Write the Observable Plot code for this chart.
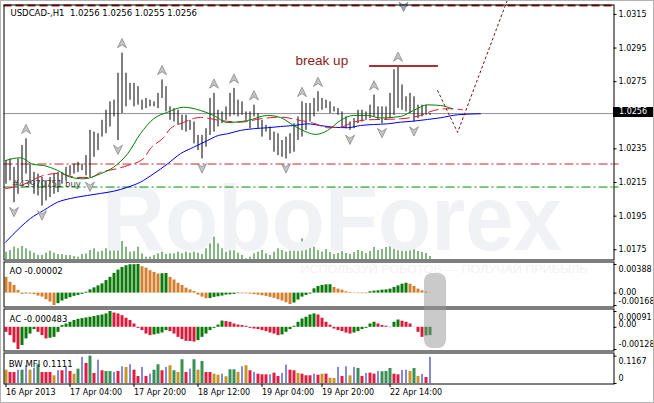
<!DOCTYPE html>
<html><head><meta charset="utf-8">
<script src="https://cdn.jsdelivr.net/npm/d3@7"></script>
<script src="https://cdn.jsdelivr.net/npm/@observablehq/plot@0.6"></script>
<style>
html,body{margin:0;padding:0;background:#fff;}
#chart{position:relative;width:654px;height:403px;overflow:hidden;background:#fff;font-family:"DejaVu Sans",sans-serif;}
#chart .layer{position:absolute;left:0;}
#chart .layer svg{display:block;}
.pricebox{position:absolute;left:613px;top:107px;width:40px;height:10px;background:#000;color:#fff;font-size:8px;line-height:10px;text-align:center;font-family:"DejaVu Sans",sans-serif;}
.pill{position:absolute;left:424px;top:273px;width:22px;height:75px;border-radius:8px;background:rgba(150,150,150,0.5);}
.edge{position:absolute;left:0;top:0;width:654px;height:403px;box-sizing:border-box;border:1px solid #b4b4b4;pointer-events:none;}
</style></head>
<body><div id="chart"></div>
<script>
// ---------------- data ----------------
const titleText = "USDCAD-,H1\u00a0 1.0256 1.0256 1.0255 1.0256";
const barHigh = [1.0228,1.0229,1.0224,1.0229,1.0237,1.0241,1.0226,1.0221,1.0220,1.0218,
 1.0216,1.0218,1.0220,1.0221,1.0221,1.0224,1.0225,1.0226,1.0227,1.0226,
 1.0231,1.0246,1.0245,1.0244,1.0252,1.0258,1.0263,1.0264,1.0280,1.0292,
 1.0280,1.0274,1.0274,1.0272,1.0264,1.0265,1.0264,1.0263,1.0268,1.0276,
 1.0272,1.0260,1.0259,1.0258,1.0255,1.0255,1.0252,1.0251,1.0243,1.0243,
 1.0247,1.0265,1.0268,1.0258,1.0257,1.0260,1.0268,1.0271,1.0264,1.0263,
 1.0257,1.0257,1.0261,1.0256,1.0252,1.0249,1.0248,1.0245,1.0244,1.0240,
 1.0242,1.0244,1.0250,1.0254,1.0263,1.0262,1.0262,1.0265,1.0269,1.0265,
 1.0264,1.0263,1.0260,1.0259,1.0257,1.0254,1.0251,1.0253,1.0258,1.0258,
 1.0257,1.0261,1.0267,1.0260,1.0260,1.0260,1.0268,1.0282,1.0284,1.0273,
 1.0266,1.0268,1.0266,1.0261,1.0261,1.0261,1.0256];
const barLow = [1.0214,1.0216,1.0203,1.0208,1.0216,1.0220,1.0214,1.0208,1.0207,1.0201,
 1.0204,1.0206,1.0208,1.0209,1.0214,1.0216,1.0219,1.0220,1.0221,1.0222,
 1.0219,1.0218,1.0230,1.0234,1.0242,1.0244,1.0248,1.0254,1.0240,1.0256,
 1.0260,1.0264,1.0260,1.0261,1.0258,1.0259,1.0260,1.0260,1.0259,1.0265,
 1.0257,1.0252,1.0251,1.0249,1.0246,1.0245,1.0246,1.0238,1.0234,1.0229,
 1.0236,1.0243,1.0245,1.0248,1.0250,1.0252,1.0254,1.0255,1.0254,1.0255,
 1.0252,1.0247,1.0254,1.0247,1.0242,1.0245,1.0240,1.0233,1.0231,1.0230,
 1.0229,1.0232,1.0233,1.0240,1.0242,1.0246,1.0251,1.0254,1.0257,1.0258,
 1.0259,1.0256,1.0257,1.0255,1.0248,1.0247,1.0246,1.0247,1.0250,1.0251,
 1.0252,1.0253,1.0254,1.0252,1.0250,1.0252,1.0253,1.0255,1.0259,1.0258,
 1.0257,1.0256,1.0251,1.0253,1.0254,1.0255,1.0255];
const volumeTicks = [73,90,123,107,130,107,83,63,40,40,
 63,83,63,50,50,40,40,30,23,50,
 57,90,107,73,83,107,113,140,307,180,
 123,73,80,123,57,23,23,40,57,73,
 50,57,57,73,57,73,63,73,63,50,
 107,157,223,157,107,73,97,90,63,40,
 7,23,57,73,90,57,40,73,107,90,
 73,83,83,97,207,157,150,123,90,73,
 100,70,50,60,80,60,50,70,90,80,
 60,80,120,90,100,120,140,200,180,130,
 120,100,110,80,70,60,30];
const fractalUp = [5,29,39,52,57,62,74,78,92,98];
const fractalDown = [2,9,21,28,49,70,86,94,102];
const topArrow = [[99.4, 1.03197]];
const jaw = [[-0.1,1.01795],[3.6,1.01884],[6.1,1.01936],[9.4,1.01984],[12.9,1.02033],[16.1,1.02055],[20.4,1.02073],[23.6,1.02085],[26.9,1.02098],[30.4,1.02122],[33.6,1.02152],[36.9,1.02202],[40.4,1.02261],[43.6,1.02321],[46.9,1.02360],[50.4,1.02400],[53.1,1.02430],[55.4,1.02440],[58.6,1.02460],[61.9,1.02470],[65.4,1.02476],[68.6,1.02483],[71.9,1.02489],[75.4,1.02499],[78.6,1.02489],[81.9,1.02479],[85.4,1.02476],[88.6,1.02489],[91.9,1.02495],[95.4,1.02499],[98.6,1.02509],[101.9,1.02515],[105.4,1.02525],[108.6,1.02535],[112.9,1.02553],[118.6,1.02559]];
const teeth = [[-0.1,1.02114],[3.6,1.02132],[9.4,1.02192],[12.9,1.02204],[17.9,1.02180],[21.1,1.02180],[23.6,1.02210],[27.9,1.02233],[30.4,1.02251],[34.4,1.02293],[36.1,1.02352],[39.4,1.02418],[41.1,1.02471],[44.4,1.02507],[46.9,1.02531],[48.6,1.02537],[53.6,1.02519],[58.6,1.02509],[63.6,1.02529],[68.6,1.02539],[73.6,1.02519],[76.9,1.02503],[80.4,1.02476],[83.6,1.02479],[86.9,1.02509],[90.4,1.02523],[93.6,1.02525],[98.6,1.02529],[103.6,1.02549],[106.9,1.02578],[110.4,1.02589],[114.1,1.02583]];
const lips = [[-0.1,1.02281],[3.6,1.02297],[6.9,1.02257],[9.4,1.02251],[12.9,1.02222],[16.1,1.02182],[19.4,1.02172],[23.6,1.02202],[26.9,1.02241],[30.4,1.02321],[33.6,1.02440],[36.9,1.02529],[40.4,1.02568],[44.4,1.02598],[48.6,1.02579],[51.9,1.02549],[55.4,1.02507],[60.4,1.02519],[65.4,1.02549],[68.6,1.02537],[71.9,1.02489],[75.4,1.02448],[77.4,1.02436],[80.4,1.02460],[83.6,1.02519],[86.9,1.02549],[90.4,1.02549],[93.6,1.02534],[98.6,1.02543],[101.9,1.02579],[105.4,1.02612],[108.6,1.02608],[111.6,1.02589]];
const forecast = [[107.9,1.02697],[112.9,1.02448],[125.4,1.03239]];
const priceLine = 1.0256;
const sellLevel = 1.0226;
const buyLevel = 1.02123;
const topLevel = 1.03203;
const breakLevel = 1.02843, breakFrom = 90.9, breakTo = 108.1;
const breakLabel = [[72.4, 1.02872, "break up"]];
const orderLabel = [[1.5, 1.02142, "#43970751 buy"]];
const mainTicks = [1.0315, 1.0295, 1.0275, 1.0235, 1.0215, 1.0195, 1.0175];

const aoValues = [0.00214,0.00147,0.00103,0.00036,-0.00017,-0.00009,-0.00013,-0.00020,-0.00040,-0.00054,
-0.00090,-0.00121,-0.00168,-0.00143,-0.00107,-0.00084,-0.00063,-0.00044,-0.00031,-0.00017,
0.00013,0.00044,0.00071,0.00098,0.00125,0.00170,0.00214,0.00268,0.00312,0.00348,
0.00371,0.00385,0.00386,0.00388,0.00358,0.00339,0.00304,0.00281,0.00259,0.00263,
0.00266,0.00214,0.00178,0.00134,0.00103,0.00067,0.00044,0.00023,-0.00027,-0.00054,
-0.00076,-0.00074,-0.00058,-0.00050,-0.00040,-0.00027,-0.00023,-0.00017,-0.00008,-0.00009,
-0.00010,-0.00013,-0.00020,-0.00027,-0.00036,-0.00044,-0.00058,-0.00071,-0.00090,-0.00107,
-0.00130,-0.00155,-0.00134,-0.00094,-0.00054,-0.00031,-0.00013,0.00058,0.00090,0.00105,
0.00112,0.00114,0.00076,0.00054,0.00040,0.00018,0.00009,-0.00005,-0.00007,-0.00008,
-0.00009,0.00018,0.00027,0.00031,0.00040,0.00044,0.00054,0.00076,0.00098,0.00121,
0.00134,0.00121,0.00090,0.00054,0.00031,0.00013,-0.00002];
const acValues = [-0.00029,-0.00048,-0.00090,-0.00128,-0.00105,-0.00067,-0.00039,-0.00013,-0.00029,-0.00048,
-0.00067,-0.00063,-0.00058,-0.00029,0.00010,0.00019,0.00029,0.00039,0.00046,0.00050,
0.00054,0.00058,0.00062,0.00067,0.00071,0.00077,0.00091,0.00082,0.00077,0.00067,
0.00052,0.00039,0.00019,-0.00006,-0.00019,-0.00039,-0.00048,-0.00044,-0.00039,-0.00033,
-0.00019,-0.00025,-0.00039,-0.00058,-0.00071,-0.00081,-0.00082,-0.00085,-0.00077,-0.00058,
-0.00039,-0.00019,-0.00006,0.00013,0.00036,0.00033,0.00029,0.00019,0.00013,0.00010,
0.00006,-0.00006,-0.00010,-0.00013,-0.00019,-0.00025,-0.00033,-0.00039,-0.00048,-0.00044,
-0.00029,-0.00013,0.00006,0.00029,0.00048,0.00058,0.00071,0.00077,0.00071,0.00052,
0.00029,0.00012,-0.00010,-0.00019,-0.00025,-0.00033,-0.00039,-0.00033,-0.00025,-0.00013,
-0.00006,0.00019,0.00029,0.00019,0.00010,0.00006,-0.00002,0.00029,0.00042,0.00035,
0.00029,0.00019,-0.00001,-0.00029,-0.00058,-0.00050,-0.000483];
const bwValues = [0.0568,0.0470,0.0470,0.0568,0.0568,0.0756,0.0568,0.0653,0.0798,0.0470,
0.0470,0.0470,0.0329,0.0542,0.0542,0.0683,0.0512,0.0397,0.0611,0.1110,
0.0854,0.1167,0.0427,0.0995,0.0542,0.0512,0.0512,0.0470,0.0512,0.0713,
0.0683,0.0798,0.0568,0.0299,0.0683,0.0299,0.0397,0.0568,0.0798,0.0542,
0.0683,0.0756,0.0542,0.0470,0.1012,0.0470,0.0611,0.1012,0.0568,0.0939,
0.0470,0.0470,0.0397,0.0354,0.0397,0.0286,0.0585,0.0585,0.0470,0.0713,
0.0756,0.0542,0.0470,0.0397,0.0371,0.0371,0.0371,0.0440,0.0299,0.0427,
0.0781,0.0568,0.0542,0.0427,0.0397,0.0329,0.0329,0.0397,0.0354,0.0397,
0.0397,0.0226,0.0214,0.0683,0.0299,0.0713,0.0329,0.0683,0.0641,0.0299,
0.0427,0.0440,0.0397,0.0512,0.0500,0.0512,0.0641,0.0397,0.0371,0.0555,
0.0568,0.0512,0.0641,0.0299,0.0384,0.0256,0.1111];
const bwCodes = ("YRRBGBYBGR"+"RRYBRBRYGB"+"RGRBRGGBRB"+"YBRRBRBGGR"+"BYGYGRBGYG"+
  "RRYYBYGGYB"+"YRBRRRBRRB"+"BRRYRRRBRY"+"RYYBRBYBGR"+"BRRBGGGRRB"+"BYGYBRB").split("");
const xTickIdx = [0, 16, 32, 48, 64, 79, 96];
const xTickLabels = ["16 Apr 2013", "17 Apr 04:00", "17 Apr 20:00", "18 Apr 12:00", "19 Apr 04:00", "19 Apr 20:00", "22 Apr 14:00"];
const aoLabel = "AO -0.00002", acLabel = "AC -0.000483", bwLabel = "BW MFI 0.1111";
const aoTicks = [0.00388, 0, -0.00168], aoTickText = ["0.00388", "0.00", "-0.00168"];
const acTicks = [0.00091, 0, -0.00128], acTickText = ["0.00091", "0.00", "-0.00128"];
const bwTicks = [0.1167, 0], bwTickText = ["0.1167", "0"];
const watermark = "RoboForex";
const slogan = "ИСПОЛЬЗУЙ РОБОТОВ — ПОЛУЧАЙ ПРИБЫЛЬ";

// ---------------- styles ----------------
const C = {ao_up:"#0b7a0b", ao_dn:"#d2802f", ac_up:"#0b7a0b", ac_dn:"#d81b3c",
  bw: {G:"#3a8f56", R:"#dc1f44", Y:"#c4962a", B:"#1212a0"}};
const chart = document.getElementById("chart");
function addLayer(node, top) {
  const d = document.createElement("div");
  d.className = "layer"; d.style.top = top + "px";
  d.appendChild(node); chart.appendChild(d);
}
const base = {
  width: 654, marginLeft: 3.5, marginRight: 40.5,
  x: {domain: [-0.5, 152], axis: null},
  color: {type: "identity"},
  style: {background: "transparent", fontFamily: "DejaVu Sans, sans-serif", fontSize: "8px", color: "black", overflow: "visible"}
};
function rightAxis(vals, labels, dys) {
  const marks = [Plot.ruleY(vals, {y: d => d, x1: 152, x2: 152.75, stroke: "black"})];
  vals.forEach((v, k) => marks.push(Plot.text([labels[k]], {text: d => d, y: v, frameAnchor: "right", dx: 4.5, dy: dys[k], textAnchor: "start", lineAnchor: "middle", fontSize: 8, fill: "black"})));
  return marks;
}
const arrowUp = {draw(c, s) { const r = Math.sqrt(s / Math.PI); c.moveTo(0, -r); c.lineTo(r * 0.9, r * 0.85); c.lineTo(0, r * 0.25); c.lineTo(-r * 0.9, r * 0.85); c.closePath(); }};
const arrowDown = {draw(c, s) { const r = Math.sqrt(s / Math.PI); c.moveTo(0, r); c.lineTo(r * 0.9, -r * 0.85); c.lineTo(0, -r * 0.25); c.lineTo(-r * 0.9, -r * 0.85); c.closePath(); }};

// ---------------- volume (under main) ----------------
const vol = volumeTicks.map((v, i) => ({i, v}));
addLayer(Plot.plot({...base, height: 60, marginTop: 0, marginBottom: 1,
  y: {domain: [0, 590], axis: null},
  marks: [Plot.ruleX(vol, {x: "i", y1: 0, y2: "v", stroke: "#0a6e0a", strokeWidth: 1})]
}), 200);

// ---------------- main price panel ----------------
const bars = barHigh.map((h, i) => ({i, h, l: barLow[i]}));
const mainSvg = Plot.plot({...base, height: 261, marginTop: 4.5, marginBottom: 1.5,
  y: {domain: [1.01689, 1.03206], axis: null},
  marks: [
    Plot.text([watermark], {text: d => d, x: 24, y: 1.01746, textAnchor: "start", lineAnchor: "bottom", fontSize: 92, fontWeight: "bold", fontFamily: "Liberation Sans, sans-serif", fill: "#f0f2f6"}),
    Plot.ruleY([topLevel], {y: d => d, stroke: "#a01c1c", strokeWidth: 2, strokeDasharray: "8,4"}),
    Plot.ruleY([sellLevel], {y: d => d, stroke: "#c0282d", strokeDasharray: "9,3,2,3"}),
    Plot.ruleY([buyLevel], {y: d => d, stroke: "#009000", strokeDasharray: "9,3,2,3"}),
    Plot.ruleY([priceLine], {y: d => d, stroke: "#8c9098"}),
    Plot.ruleX(bars, {x: "i", y1: "l", y2: "h", stroke: "black", strokeWidth: 1}),
    Plot.line(jaw, {stroke: "#0000ee", strokeWidth: 1, curve: "monotone-x"}),
    Plot.line(teeth, {stroke: "#e0142c", strokeWidth: 1, strokeDasharray: "10,5", curve: "monotone-x"}),
    Plot.line(lips, {stroke: "#008000", strokeWidth: 1, curve: "monotone-x"}),
    Plot.dot(fractalUp, {x: d => d, y: d => barHigh[d], dy: -9.5, symbol: arrowUp, r: 5, fill: "#c4c4c4", stroke: "#8a8a8a", strokeWidth: 0.8}),
    Plot.dot(fractalDown, {x: d => d, y: d => barLow[d], dy: 9, symbol: arrowDown, r: 5, fill: "#c4c4c4", stroke: "#8a8a8a", strokeWidth: 0.8}),
    Plot.dot(topArrow, {symbol: arrowDown, r: 5, fill: "#9aa6b8", stroke: "#7a8698", strokeWidth: 0.8}),
    Plot.line(forecast, {stroke: "#6e1414", strokeWidth: 1, strokeDasharray: "2,3"}),
    Plot.ruleY([breakLevel], {y: d => d, x1: breakFrom, x2: breakTo, stroke: "#ad3030", strokeWidth: 2}),
    Plot.text(breakLabel, {x: d => d[0], y: d => d[1], text: d => d[2], textAnchor: "start", lineAnchor: "middle", fontSize: 13.5, fontFamily: "Liberation Sans, sans-serif", fill: "#8b1c1c"}),
    Plot.text(orderLabel, {x: d => d[0], y: d => d[1], text: d => d[2], textAnchor: "start", lineAnchor: "middle", fontSize: 8.5, fill: "#3c3c3c"}),
    Plot.text([titleText], {text: d => d, frameAnchor: "top-left", dx: 6.5, dy: 8.2, textAnchor: "start", lineAnchor: "middle", fontSize: 8.5, fill: "black"}),
    ...rightAxis(mainTicks, mainTicks.map(d3.format(".4f")), mainTicks.map(() => 0)),
    Plot.ruleY([sellLevel], {y: d => d, x1: 152, x2: 153.25, stroke: "#c0282d"}),
    Plot.ruleY([buyLevel], {y: d => d, x1: 152, x2: 153.25, stroke: "#009000"}),
    Plot.frame({stroke: "black"})
  ]
});
d3.select(mainSvg).selectAll("text").each(function () {
  if (this.textContent === watermark) d3.select(this).attr("textLength", 460).attr("lengthAdjust", "spacingAndGlyphs");
});
addLayer(mainSvg, 0);

// ---------------- AO ----------------
const ao = aoValues.map((v, i) => ({i, v, c: i > 0 && v > aoValues[i - 1] ? C.ao_up : C.ao_dn}));
const aoSvg = Plot.plot({...base, height: 48, marginTop: 1.5, marginBottom: 1.5,
  y: {domain: [-0.00168, 0.00388], range: [45, 4], axis: null},
  marks: [
    Plot.text([slogan], {text: d => d, x: 73.6, frameAnchor: "top", dy: 7, textAnchor: "start", lineAnchor: "middle", fontSize: 11, fontFamily: "Liberation Sans, sans-serif", fill: "#f2f2f2"}),
    Plot.ruleX(ao, {x: "i", y1: 0, y2: "v", stroke: "c", strokeWidth: 3}),
    Plot.text([aoLabel], {text: d => d, frameAnchor: "top-left", dx: 5.5, dy: 9.5, textAnchor: "start", lineAnchor: "middle", fontSize: 8.5, fill: "black"}),
    ...rightAxis(aoTicks, aoTickText, [5, -0.5, -4.5]),
    Plot.frame({stroke: "black"})
  ]
});
d3.select(aoSvg).selectAll("text").each(function () {
  if (this.textContent === slogan) d3.select(this).attr("textLength", 287).attr("lengthAdjust", "spacingAndGlyphs");
});
addLayer(aoSvg, 260);

// ---------------- AC ----------------
const ac = acValues.map((v, i) => ({i, v, c: i > 0 && v > acValues[i - 1] ? C.ac_up : C.ac_dn}));
addLayer(Plot.plot({...base, height: 45, marginTop: 1.5, marginBottom: 1.5,
  y: {domain: [-0.00128, 0.00091], range: [42, 4], axis: null},
  marks: [
    Plot.ruleX(ac, {x: "i", y1: 0, y2: "v", stroke: "c", strokeWidth: 3}),
    Plot.text([acLabel], {text: d => d, frameAnchor: "top-left", dx: 5.5, dy: 10.5, textAnchor: "start", lineAnchor: "middle", fontSize: 8.5, fill: "black"}),
    ...rightAxis(acTicks, acTickText, [5.5, -2.5, -4.7]),
    Plot.frame({stroke: "black"})
  ]
}), 307);

// ---------------- BW MFI ----------------
const bw = bwValues.map((v, i) => ({i, v, k: bwCodes[i], c: C.bw[bwCodes[i]]}));
const labelOf = new Map(xTickIdx.map((d, k) => [d, xTickLabels[k]]));
addLayer(Plot.plot({...base, height: 52, marginTop: 1.5, marginBottom: 19.5,
  x: {domain: [-0.5, 152]},
  y: {domain: [0, 0.1167], range: [32, 4.6], axis: null},
  marks: [
    Plot.ruleX(bw.filter(d => d.k !== "B"), {x: "i", y1: 0, y2: "v", stroke: "c", strokeWidth: 3}),
    Plot.ruleX(bw.filter(d => d.k === "B"), {x: "i", y1: 0, y2: "v", stroke: "c", strokeWidth: 1}),
    Plot.text([bwLabel], {text: d => d, frameAnchor: "top-left", dx: 4.8, dy: 11.5, textAnchor: "start", lineAnchor: "middle", fontSize: 8.5, fill: "black"}),
    ...rightAxis(bwTicks, bwTickText, [5, -5.5]),
    Plot.axisX({ticks: xTickIdx, tickFormat: d => labelOf.get(d), anchor: "bottom", tickSize: 3.5, tickPadding: 2, textAnchor: "start", fontSize: 8, label: null, stroke: "black", fill: "black"}),
    Plot.frame({stroke: "black"})
  ]
}), 351);

// ---------------- overlays ----------------
const pill = document.createElement("div"); pill.className = "pill"; chart.appendChild(pill);
const pb = document.createElement("div"); pb.className = "pricebox"; pb.textContent = d3.format(".4f")(priceLine); chart.appendChild(pb);
const edge = document.createElement("div"); edge.className = "edge"; chart.appendChild(edge);
</script></body></html>
